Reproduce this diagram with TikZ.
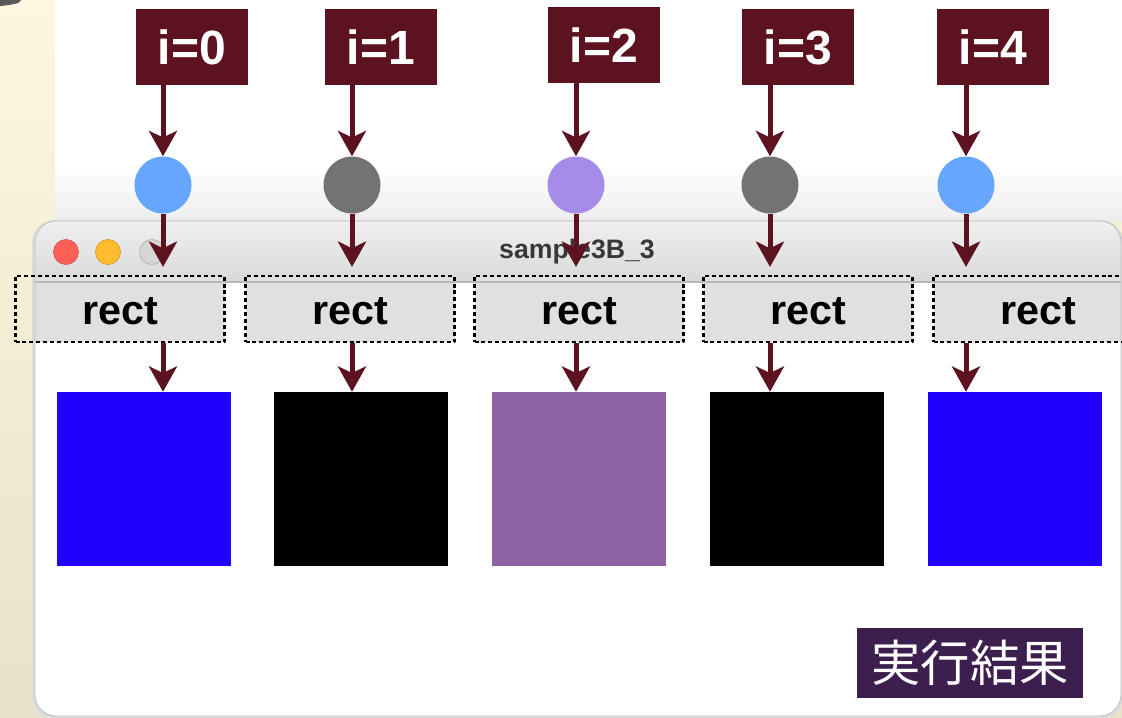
\documentclass[tikz,border=0pt]{standalone}
\usepackage{fontspec}
\setmainfont{Liberation Sans}
\newfontfamily\jpfont{Noto Sans CJK JP}
\usetikzlibrary{arrows.meta,calc,positioning}
\definecolor{maroon}{RGB}{92,18,31}
\definecolor{dotblue}{RGB}{102,166,255}
\definecolor{dotgray}{RGB}{115,115,115}
\definecolor{dotpurple}{RGB}{167,139,232}
\definecolor{sqblue}{RGB}{34,0,255}
\definecolor{sqpurple}{RGB}{143,98,166}
\definecolor{resultbg}{RGB}{61,31,79}
\definecolor{boxgray}{RGB}{224,224,224}
\definecolor{tlred}{RGB}{254,95,87}
\definecolor{tlyellow}{RGB}{254,188,46}
\definecolor{tlgray}{RGB}{214,214,214}

\begin{document}
\begin{tikzpicture}[x=0.75pt,y=-0.75pt,line join=round,
	idx/.style={fill=maroon,text=white,font=\bfseries\fontsize{36}{36}\selectfont,minimum width=84pt,minimum height=57pt,inner sep=0pt},
	dot/.style={circle,minimum size=42.75pt,inner sep=0pt},
	rectbox/.style={draw,dash pattern=on 3pt off 2.2pt,line width=1.6pt,minimum width=156.75pt,minimum height=49.5pt,font=\bfseries\fontsize{31}{31}\selectfont,text height=23pt,text depth=0pt,inner sep=0pt},
	sq/.style={minimum size=130.5pt,inner sep=0pt},
	flow/.style={maroon,line width=3.75pt,-{Stealth[length=19pt,width=21pt,inset=5pt]}}]
		\useasboundingbox (0,0) rectangle (1122,718);
		% background
		\shade[top color={rgb,255:red,253;green,247;blue,224},bottom color={rgb,255:red,232;green,226;blue,203}] (0,0) rectangle (1122,718);
		\fill[black!65] (0,0) -- (21,0) -- (18,3) .. controls (10,5) .. (0,6) -- cycle;
		\fill[white] (55,0) rectangle (1122,221);
		\shade[top color=white,bottom color=black!7] (55,165) rectangle (1122,221);
		% window
		\fill[black!14,rounded corners=17pt] (32,220) rectangle (1123,719);
		\fill[white,rounded corners=16pt] (35,221) rectangle (1121,716);
		\begin{scope}
			\clip[rounded corners=16pt] (35,221) rectangle (1121,716);
			\shade[top color=black!6,bottom color=black!15] (35,221) rectangle (1121,282);
			\foreach \rx in {120,350,579,808,1038}{\fill[boxgray] (\rx-104.5,276) rectangle (\rx+104.5,342);}
			\draw[black!28,line width=1.5pt] (35,282) -- (1121,282);
		\end{scope}
		\draw[black!25,line width=0.6pt,rounded corners=16pt] (35,221) rectangle (1121,716);
		\foreach \p/\c in {66/tlred,108/tlyellow,152/tlgray}{\fill[\c,draw=\c!80!black,line width=0.4pt] (\p,252) circle (9.4pt);}
		\node[text=black!78,font=\bfseries\fontsize{20}{20}\selectfont] (title) at (577,252) {sample3B\_3};
		% columns
		\foreach \i/\a/\bx/\by/\rx/\sx/\dc/\sc in {0/163/192/47/120/144/dotblue/sqblue,1/352/381/47/350/361/dotgray/black,2/576/604/45/579/579/dotpurple/sqpurple,3/770/798/47/808/797/dotgray/black,4/966/993/47/1038/1015/dotblue/sqblue}{
			\node[idx] (idx\i) at (\bx,\by) {i=\i};
			\node[dot,fill=\dc] (dot\i) at (\a,185) {};
			\node[rectbox] (rect\i) at (\rx,309) {rect};
			\node[sq,fill=\sc] (sq\i) at (\sx,479) {};
			\coordinate (s\i) at (\a,68);
		}
		\foreach \i in {0,...,4}{
			\draw[flow] (s\i) -- (dot\i.north);
			\draw[flow,shorten >=6pt] (dot\i.south) -- (rect\i.north -| dot\i);
			\draw[flow] (rect\i.south -| dot\i) -- (sq\i.north -| dot\i);
		}
		\node[fill=resultbg,text=white,font=\jpfont\fontsize{37}{37}\selectfont,minimum width=169.5pt,minimum height=52pt,inner sep=0pt] (result) at (970,663) {実行結果};
\end{tikzpicture}
\end{document}
